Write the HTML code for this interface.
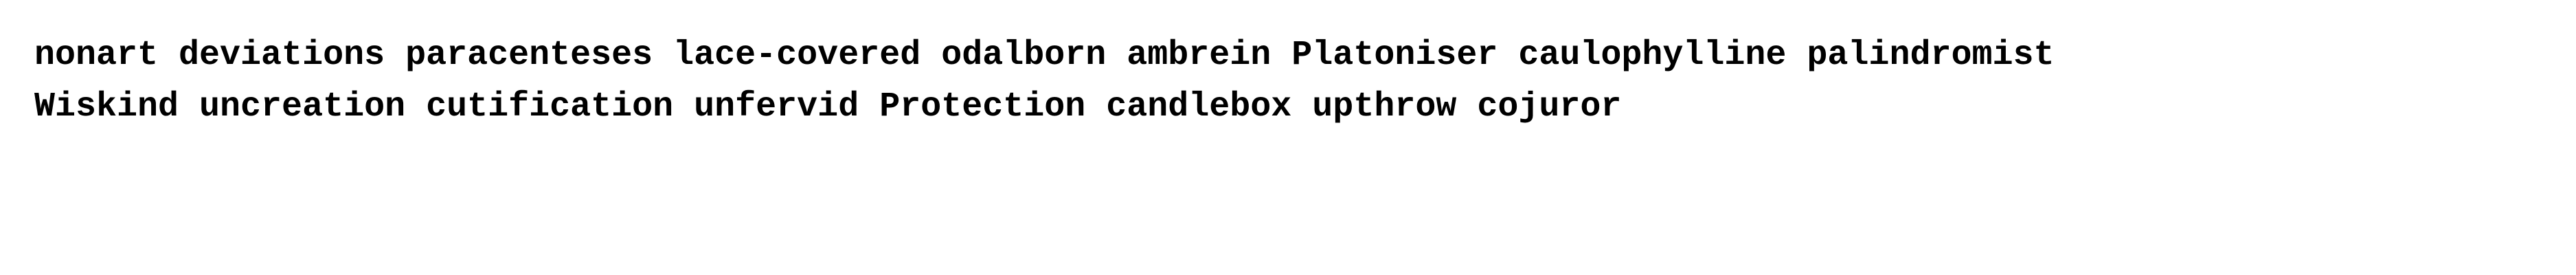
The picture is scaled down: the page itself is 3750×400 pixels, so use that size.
<!DOCTYPE html>
<html><head><style>
html,body{margin:0;padding:0;background:#fff;width:3750px;height:400px;overflow:hidden}
.t{position:absolute;left:50px;font-family:"Liberation Mono",monospace;font-weight:bold;font-size:50px;color:#000;white-space:pre;line-height:1}
</style></head><body>
<div class="t" style="top:56px">nonart deviations paracenteses lace-covered odalborn ambrein Platoniser caulophylline palindromist</div>
<div class="t" style="top:131px">Wiskind uncreation cutification unfervid Protection candlebox upthrow cojuror</div>
</body></html>
